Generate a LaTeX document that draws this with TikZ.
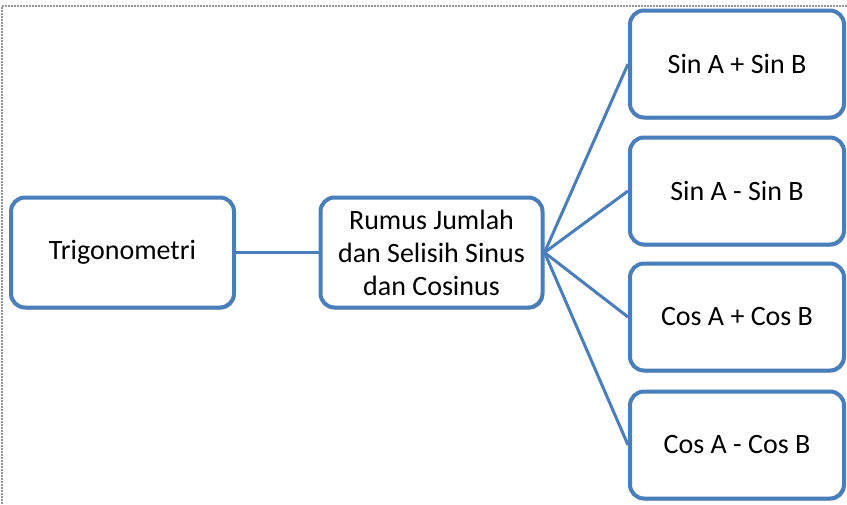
\documentclass[tikz,border=0pt]{standalone}
\usepackage{fontspec}
\setmainfont{Carlito}
\usetikzlibrary{shadows}
\definecolor{boxblue}{RGB}{74,126,187}
\definecolor{framegray}{RGB}{150,150,150}
\begin{document}
\begin{tikzpicture}[x=1pt,y=-1pt,
  box/.style={draw=boxblue, line width=4pt, fill=white, rounded corners=14pt,
    rectangle, align=center, font=\fontsize{28}{33}\selectfont, inner sep=2pt,
    drop shadow={shadow xshift=1.5pt, shadow yshift=-2pt, opacity=0.25, fill=black}},
  conn/.style={draw=boxblue, line width=3pt}]
\useasboundingbox (0,0) rectangle (847,504);
\draw[framegray, line width=1.2pt, dash pattern=on 2pt off 1pt] (847,6) -- (2,6) -- (2,504);
\node[box, minimum width=223pt, minimum height=110pt] (trig) at (122.5,252.5) {Trigonometri};
\node[box, minimum width=222pt, minimum height=110pt] (mid) at (431.5,252.5) {Rumus Jumlah\\dan Selisih Sinus\\dan Cosinus};
\node[box, minimum width=214pt, minimum height=107pt] (r1) at (737,64) {Sin A + Sin B};
\node[box, minimum width=214pt, minimum height=107pt] (r2) at (737,191) {Sin A - Sin B};
\node[box, minimum width=214pt, minimum height=107pt] (r3) at (737,317) {Cos A + Cos B};
\node[box, minimum width=214pt, minimum height=107pt] (r4) at (737,445) {Cos A - Cos B};
\draw[conn] (trig.east) -- (mid.west);
\foreach \r in {r1,r2,r3,r4} \draw[conn] (mid.east) -- (\r.west);
\end{tikzpicture}
\end{document}
